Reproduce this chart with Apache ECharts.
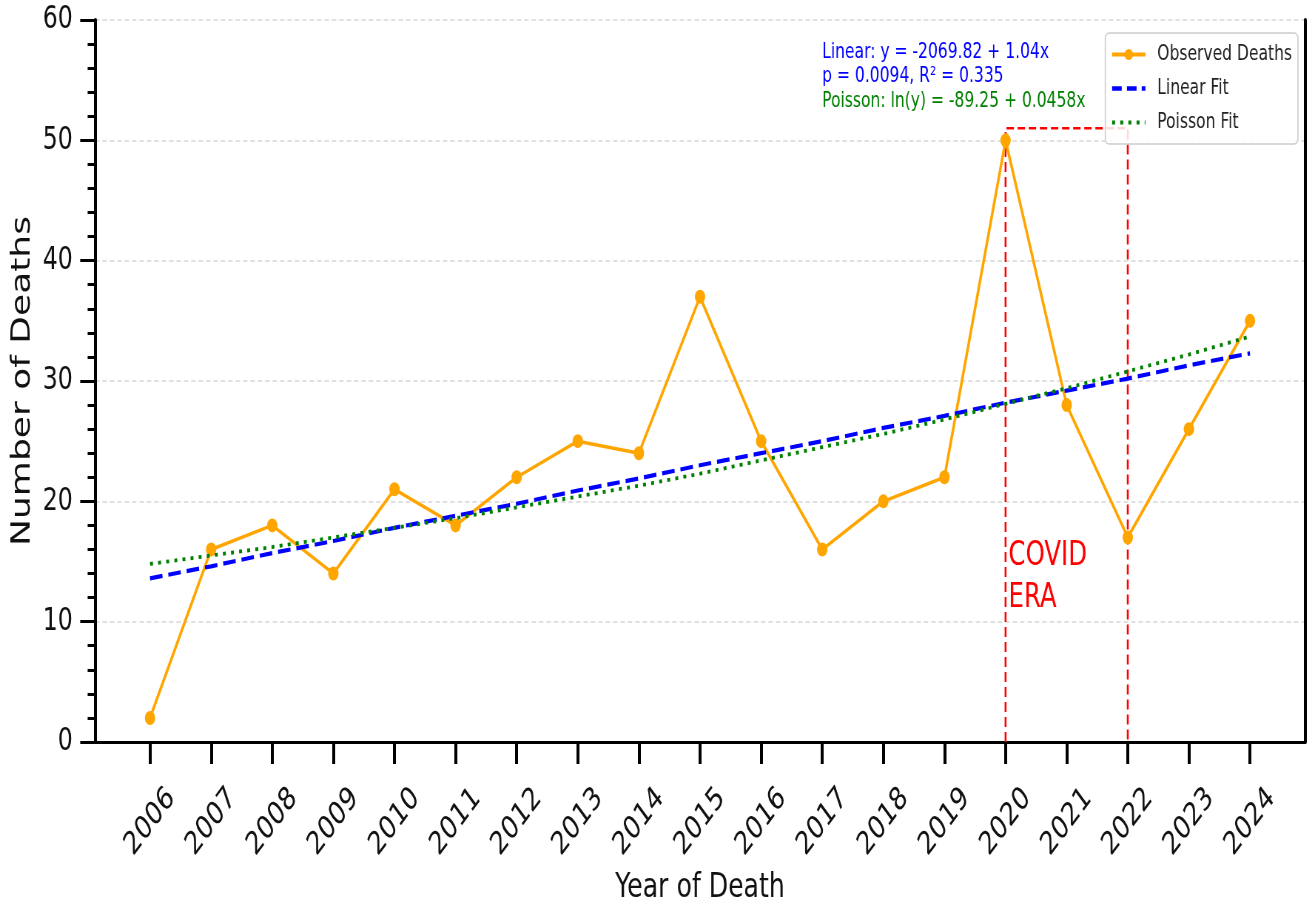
<!DOCTYPE html>
<html><head><meta charset="utf-8">
<script src="https://cdn.jsdelivr.net/npm/echarts@6/dist/echarts.min.js"></script>
<style>
html,body{margin:0;padding:0;overflow:hidden;background:#fff;width:1309px;height:910px}
#c{width:1769px;height:910px;transform:scaleX(0.74);transform-origin:0 0;}
</style>
</head><body><div id="c"></div>
<script>
const years = [2006,2007,2008,2009,2010,2011,2012,2013,2014,2015,2016,2017,2018,2019,2020,2021,2022,2023,2024];
const observedDeaths = [2,16,18,14,21,18,22,25,24,37,25,16,20,22,50,28,17,26,35];
const linearFit = [13.6,14.6,15.7,16.7,17.8,18.8,19.8,20.9,21.9,23.0,24.0,25.0,26.1,27.1,28.2,29.2,30.2,31.3,32.3];
const poissonFit = [14.8,15.5,16.2,17.0,17.8,18.6,19.5,20.4,21.3,22.3,23.4,24.5,25.6,26.8,28.1,29.4,30.8,32.2,33.7];
const covidStart = 2020, covidEnd = 2022, covidTop = 51;
const covidLabelY = 17.2;
const xMin = 2005.1, xMax = 2024.9;
const yMin = 0, yMax = 60, yStep = 10;
const annLinear = 'Linear: y = -2069.82 + 1.04x';
const annStats = 'p = 0.0094, R\u00b2 = 0.335';
const annPoisson = 'Poisson: ln(y) = -89.25 + 0.0458x';

const FONT = 'DejaVu Sans';
const zip = (xs, ys) => xs.map((x, i) => [x, ys[i]]);

const chart = echarts.init(document.getElementById('c'), null, {renderer: 'canvas'});
chart.setOption({
  animation: false,
  backgroundColor: '#ffffff',
  textStyle: {fontFamily: FONT},
  title: {
    left: 1106, top: 35,
    text: '{b|' + annLinear + '}\n{b|' + annStats + '}\n{g|' + annPoisson + '}',
    textStyle: {
      fontFamily: FONT, fontSize: 21, fontWeight: 'normal', lineHeight: 24.5,
      rich: {
        b: {color: '#0000ff', fontFamily: FONT, fontSize: 21, lineHeight: 24.5},
        g: {color: '#008000', fontFamily: FONT, fontSize: 21, lineHeight: 24.5}
      }
    }
  },
  legend: {
    orient: 'vertical', right: 15, top: 33,
    padding: [11, 8, 11, 7], itemGap: 13,
    itemWidth: 45, itemHeight: 14,
    backgroundColor: 'rgba(255,255,255,0.85)',
    borderColor: '#cccccc', borderWidth: 1.5, borderRadius: 5,
    textStyle: {fontFamily: FONT, fontSize: 21, color: '#222', lineHeight: 21, padding: [0, 0, 0, 11]},
    data: [
      {name: 'Observed Deaths', lineStyle: {width: 4, color: '#ffa500'}},
      {name: 'Linear Fit', itemStyle: {opacity: 0}, lineStyle: {width: 4.5, color: '#0000ff', type: [13, 7]}},
      {name: 'Poisson Fit', itemStyle: {opacity: 0}, lineStyle: {width: 4, color: '#008000', type: [4, 7]}}
    ]
  },
  grid: {left: 128.4, right: 5.5, top: 20, bottom: 166},
  xAxis: [{
    type: 'value', min: xMin, max: xMax, position: 'bottom',
    name: 'Year of Death', nameLocation: 'middle', nameGap: 129, nameMoveOverlap: false,
    nameTextStyle: {fontFamily: FONT, fontSize: 34, color: '#111'},
    axisLine: {show: true, onZero: false, lineStyle: {color: '#000', width: 3}},
    axisTick: {show: true, customValues: years, length: 22, lineStyle: {color: '#000', width: 4}},
    axisLabel: {show: true, customValues: years, rotate: 45, align: 'center', verticalAlign: 'middle',
      margin: 80, fontFamily: FONT, fontSize: 32, color: '#111', formatter: v => String(v)},
    splitLine: {show: false}
  }, {
    type: 'value', min: xMin, max: xMax, position: 'top',
    axisLine: {show: true, lineStyle: {color: '#000', width: 3}},
    axisTick: {show: false}, axisLabel: {show: false}, splitLine: {show: false}
  }],
  yAxis: [{
    type: 'value', min: yMin, max: yMax, interval: yStep, position: 'left',
    name: 'Number of Deaths', nameLocation: 'middle', nameGap: 80, nameMoveOverlap: false,
    nameTextStyle: {fontFamily: FONT, fontSize: 36, color: '#111'},
    axisLine: {show: true, onZero: false, lineStyle: {color: '#000', width: 4}},
    axisTick: {show: true, length: 20, lineStyle: {color: '#000', width: 3}},
    minorTick: {show: true, splitNumber: 5, length: 10, lineStyle: {color: '#000', width: 3}},
    axisLabel: {margin: 30, fontFamily: FONT, fontSize: 32, color: '#111'},
    splitLine: {show: true, lineStyle: {color: '#d6d6d6', width: 1.5, type: [6, 4]}},
    minorSplitLine: {show: false}
  }, {
    type: 'value', min: yMin, max: yMax, interval: yStep, position: 'right',
    axisLine: {show: true, lineStyle: {color: '#000', width: 4}},
    axisTick: {show: false}, axisLabel: {show: false}, splitLine: {show: false}
  }],
  series: [
    {
      name: 'COVID', type: 'line', xAxisIndex: 0, yAxisIndex: 0,
      data: [[covidStart, 0], [covidStart, covidTop], [covidEnd, covidTop], [covidEnd, 0]],
      symbol: 'none', silent: true, z: 1,
      lineStyle: {color: '#ff0000', width: 2.6, type: [10, 5]},
      markPoint: {
        symbol: 'rect', symbolSize: 0, silent: true,
        data: [{coord: [covidStart, covidLabelY]}],
        label: {show: true, position: [4, 0], align: 'left', verticalAlign: 'top',
          formatter: 'COVID\nERA', color: '#ff0000', fontFamily: FONT, fontSize: 33, lineHeight: 42}
      }
    },
    {
      name: 'Observed Deaths', type: 'line', xAxisIndex: 0, yAxisIndex: 0,
      data: zip(years, observedDeaths),
      symbol: 'circle', symbolSize: 14, showSymbol: true, z: 3,
      lineStyle: {color: '#ffa500', width: 3.5},
      itemStyle: {color: '#ffa500'}
    },
    {
      name: 'Linear Fit', type: 'line', xAxisIndex: 0, yAxisIndex: 0,
      data: zip(years, linearFit), symbol: 'none', z: 4,
      lineStyle: {color: '#0000ff', width: 4.2, type: [17, 8]},
      itemStyle: {color: '#0000ff'}
    },
    {
      name: 'Poisson Fit', type: 'line', xAxisIndex: 0, yAxisIndex: 0,
      data: zip(years, poissonFit), symbol: 'none', z: 5,
      lineStyle: {color: '#008000', width: 3.8, type: [4, 7]},
      itemStyle: {color: '#008000'}
    }
  ]
});
</script>
</body></html>
